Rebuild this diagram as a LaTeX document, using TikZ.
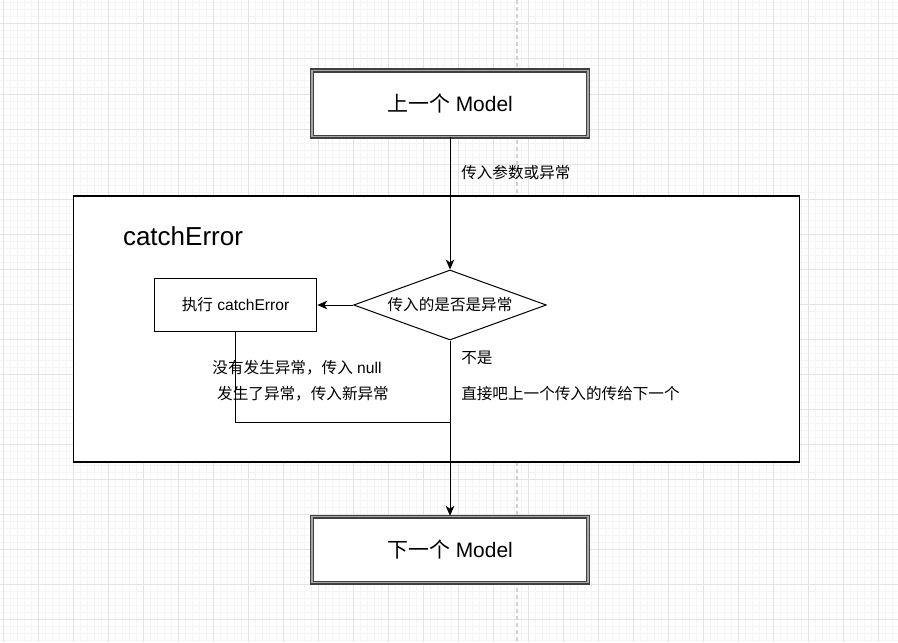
\documentclass[tikz,border=0pt]{standalone}
\usepackage{fontspec}
\setmainfont{Liberation Sans}
\newfontfamily\cjk{Noto Sans CJK SC}
\usetikzlibrary{shapes.geometric,arrows.meta}
\newcommand{\zh}[1]{{\cjk #1}}

\tikzset{
  minorgrid/.style={draw=black!4, line width=0.75pt},
  majorgrid/.style={draw=black!11, line width=0.75pt},
  pagebreak/.style={draw=black!18, line width=1.5pt, dash pattern=on 3pt off 2.25pt},
  modelbox/.style={rectangle, draw=black!75, double=black!35, line width=1.1pt,
    double distance=0.8pt, fill=white, minimum width=207pt, minimum height=49.5pt,
    font=\fontsize{15.7}{19}\selectfont},
  framebox/.style={rectangle, draw=black, line width=0.9pt, fill=white,
    minimum width=545pt, minimum height=199.5pt},
  stepbox/.style={rectangle, draw=black, line width=0.75pt, fill=white,
    minimum width=122pt, minimum height=39.5pt, font=\fontsize{11.7}{14}\selectfont},
  testbox/.style={diamond, aspect=2.75, draw=black, line width=0.75pt, fill=white, inner sep=0pt,
    minimum width=144.5pt, minimum height=52.5pt, font=\fontsize{11.7}{14}\selectfont},
  note/.style={inner sep=0pt, font=\fontsize{11.7}{14}\selectfont},
  link/.style={draw=black, line width=0.75pt, -{Stealth[length=7.5pt,width=6.5pt,inset=2.2pt]}},
  wire/.style={draw=black, line width=0.75pt}
}

\begin{document}
\begin{tikzpicture}[x=0.75pt, y=-0.75pt]
\useasboundingbox (0,0) rectangle (898,642);
\fill[white] (0,0) rectangle (898,642);

% grid
\foreach \x in {3,10,...,898}
{
    \draw[minorgrid](\x,0)--(\x,642);
}
\foreach \y in {3,10,...,642}
{
    \draw[minorgrid](0,\y)--(898,\y);
}
\foreach \x in {3,38,...,898}
{
    \draw[majorgrid](\x,0)--(\x,642);
}
\foreach \y in {24,59,...,642}
{
    \draw[majorgrid](0,\y)--(898,\y);
}
\draw[pagebreak](517,0)--(517,642);

\node[framebox] (frame) at (436.5,329) {};
\node[font=\fontsize{19.5}{23}\selectfont, inner sep=0pt] (title) at (183,236) {catchError};

\node[modelbox] (prev) at (450,103.5) {\zh{上一个} Model};
\node[modelbox] (next) at (450,549.5) {\zh{下一个} Model};
\node[testbox] (check) at (450,305) {\zh{传入的是否是异常}};
\node[stepbox] (run) at (235.5,305) {\zh{执行} catchError};
\coordinate (merge) at (450,422);

\draw[link](prev.south)--(check.north);
\draw[link](check.west)--(run.east);
\draw[wire](run.south)|-(merge);
\draw[link](check.south)--(next.north);

\node[note, anchor=west] (inLabel) at (461,173) {\zh{传入参数或异常}};
\node[note] (nullLabel) at (297,368) {\zh{没有发生异常，传入} null};
\node[note] (errLabel) at (303,394) {\zh{发生了异常，传入新异常}};
\node[note, anchor=west] (noLabel) at (461,358) {\zh{不是}};
\node[note, anchor=west] (passLabel) at (461,394) {\zh{直接吧上一个传入的传给下一个}};

\end{tikzpicture}
\end{document}
